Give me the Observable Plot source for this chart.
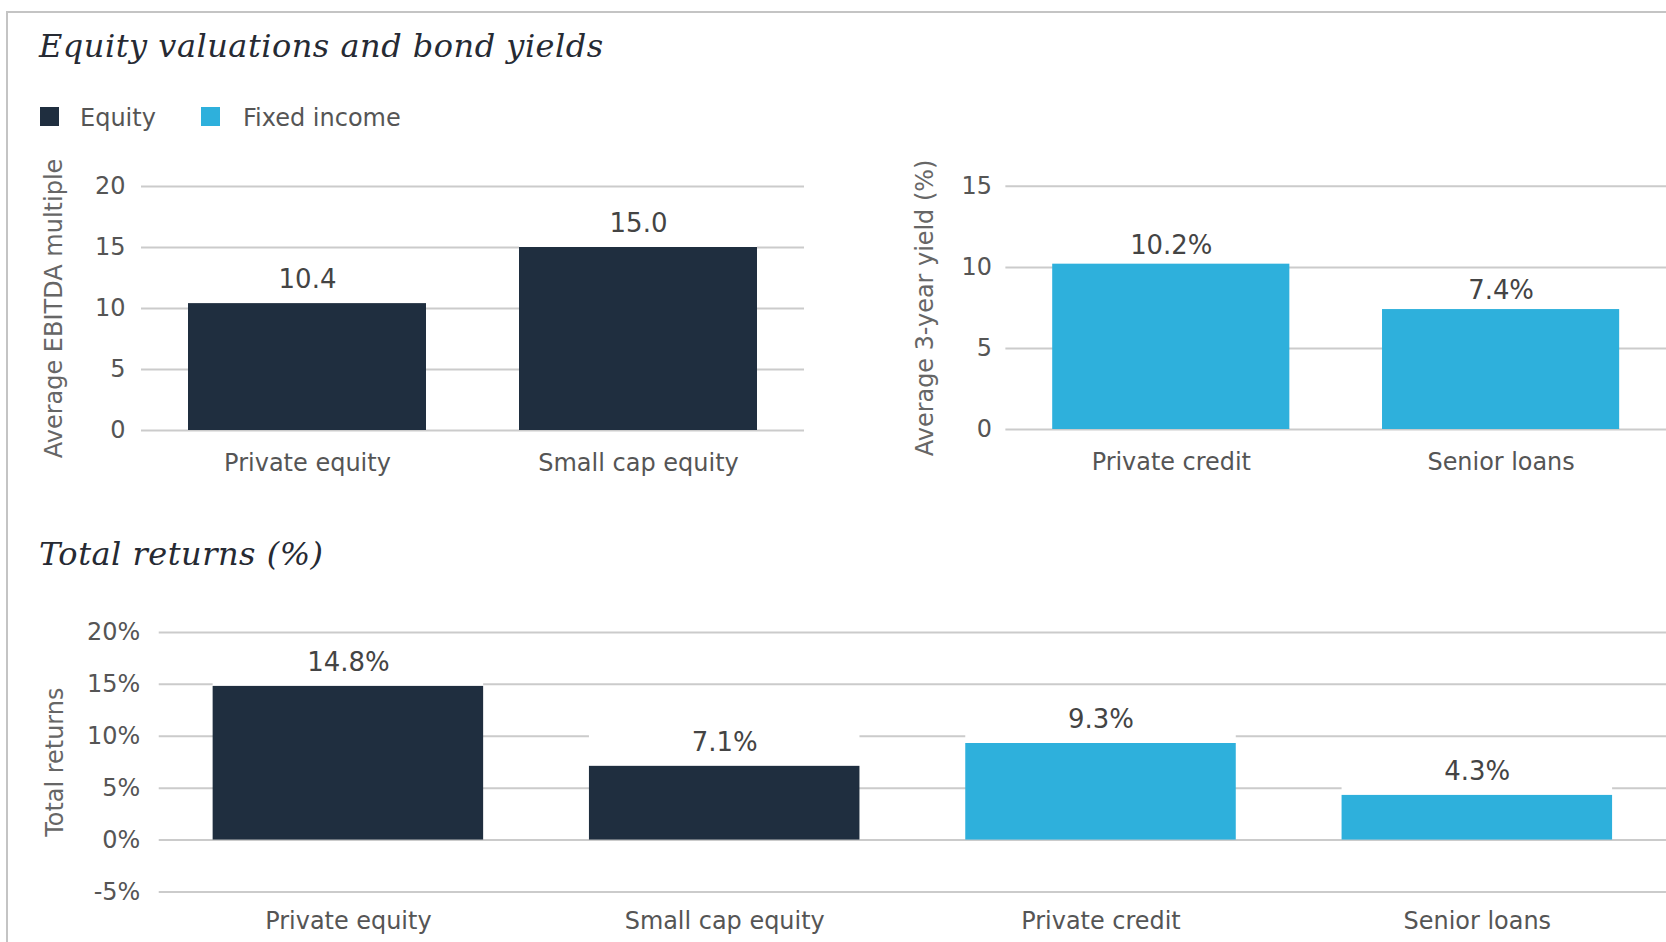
<!DOCTYPE html>
<html>
<head>
<meta charset="utf-8">
<script src="https://cdn.jsdelivr.net/npm/d3@7"></script>
<script src="https://cdn.jsdelivr.net/npm/@observablehq/plot@0.6"></script>
<style>
  html, body { margin: 0; padding: 0; background: #fff; overflow: hidden; }
  #root { position: relative; width: 1666px; height: 942px; overflow: hidden; background: #fff; }
  .frame { position: absolute; left: 6px; top: 11px; width: 1700px; height: 1000px;
           border-top: 2px solid #c4c4c4; border-left: 2px solid #c4c4c4; box-sizing: border-box; }
  .title { position: absolute; font-family: "DejaVu Serif", serif; font-style: italic; font-size: 32px;
           letter-spacing: 0.5px; line-height: 32px; color: #262a33; white-space: nowrap; }
  .legend-swatch { position: absolute; width: 19px; height: 19px; }
  .legend-text { position: absolute; font-family: "DejaVu Sans", sans-serif; font-size: 24px; line-height: 24px;
                 color: #555; white-space: nowrap; }
  .chart { position: absolute; }
  .chart svg { overflow: visible; }
</style>
</head>
<body>
<div id="root">
  <div class="frame"></div>
  <div class="title" style="left:39px; top:30px;">Equity valuations and bond yields</div>
  <div id="legend"></div>
  <div class="title" style="left:39px; top:538px;">Total returns (%)</div>
  <div class="chart" id="c1" style="left:0px; top:150px;"></div>
  <div class="chart" id="c2" style="left:830px; top:150px;"></div>
  <div class="chart" id="c3" style="left:0px; top:590px;"></div>
</div>
<script>
// ---- Data ----
const groupNames = ["Equity", "Fixed income"];
const groupColors = ["#1f2e3f", "#2eb0dc"];

const valuationCategories = ["Private equity", "Small cap equity"];
const valuationValues = [10.4, 15.0];
const valuationGroups = ["Equity", "Equity"];
const valuationTicks = [0, 5, 10, 15, 20];

const yieldCategories = ["Private credit", "Senior loans"];
const yieldValues = [10.2, 7.4];
const yieldGroups = ["Fixed income", "Fixed income"];
const yieldTicks = [0, 5, 10, 15];

const returnCategories = ["Private equity", "Small cap equity", "Private credit", "Senior loans"];
const returnValues = [14.8, 7.1, 9.3, 4.3];
const returnGroups = ["Equity", "Equity", "Fixed income", "Fixed income"];
const returnTicks = [-5, 0, 5, 10, 15, 20];

// ---- Legend ----
const legend = document.getElementById("legend");
const legendLayout = [{sx: 40, tx: 80}, {sx: 201, tx: 243}];
groupNames.forEach((g, i) => {
  const sw = document.createElement("div");
  sw.className = "legend-swatch";
  sw.style.left = legendLayout[i].sx + "px";
  sw.style.top = "107px";
  sw.style.background = groupColors[i];
  legend.appendChild(sw);
  const t = document.createElement("div");
  t.className = "legend-text";
  t.style.left = legendLayout[i].tx + "px";
  t.style.top = "106px";
  t.textContent = g;
  legend.appendChild(t);
});

// ---- Chart builder ----
function barChart(o) {
  const data = o.cats.map((c, i) => ({cat: c, value: o.vals[i], group: o.groups[i], label: o.fmtLabel(o.vals[i])}));
  return Plot.plot({
    width: o.width, height: o.height,
    marginLeft: o.ml, marginRight: o.mr, marginTop: o.mt, marginBottom: o.mb,
    style: {fontFamily: "'DejaVu Sans', sans-serif", fontSize: "24px", color: "#555", background: "transparent"},
    x: {domain: o.cats, paddingInner: 0.28, paddingOuter: 0.14, label: null},
    y: {domain: o.yDomain, ticks: o.ticks, label: null},
    color: {domain: groupNames, range: groupColors},
    marks: [
      Plot.gridY(o.ticks, {stroke: "#cbcbcb", strokeOpacity: 1, strokeWidth: 2}),
      Plot.barY(data, {x: "cat", y1: "value", y2: "value", insetTop: -36, fill: "white"}),
      Plot.barY(data, {x: "cat", y: "value", fill: "group"}),
      Plot.text(data, {x: "cat", y: "value", text: "label", dy: o.labelDy, fontSize: 26, fill: "#444"}),
      Plot.axisY(o.ticks, {tickSize: 0, tickPadding: o.tickPad, tickFormat: o.fmtTick, fontSize: 24, label: null}),
      Plot.axisX({tickSize: 0, tickPadding: o.xPad, fontSize: 24, label: null}),
      Plot.text([o.yTitle], {text: d => d, frameAnchor: "left", textAnchor: "middle", rotate: -90,
                             dx: o.titleDx, fontSize: 24, fill: "#666"})
    ]
  });
}

document.getElementById("c1").appendChild(barChart({
  cats: valuationCategories, vals: valuationValues, groups: valuationGroups,
  ticks: valuationTicks, yDomain: [0, 20],
  fmtTick: d => String(d), fmtLabel: v => v.toFixed(1),
  yTitle: "Average EBITDA multiple",
  width: 820, height: 340, ml: 141, mr: 16, mt: 36, mb: 60,
  tickPad: 16, xPad: 23, titleDx: -87, labelDy: -24
}));

document.getElementById("c2").appendChild(barChart({
  cats: yieldCategories, vals: yieldValues, groups: yieldGroups,
  ticks: yieldTicks, yDomain: [0, 15],
  fmtTick: d => String(d), fmtLabel: v => v.toFixed(1) + "%",
  yTitle: "Average 3-year yield (%)",
  width: 839, height: 340, ml: 176, mr: 0, mt: 36, mb: 60,
  tickPad: 14, xPad: 24, titleDx: -81, labelDy: -19
}));

document.getElementById("c3").appendChild(barChart({
  cats: returnCategories, vals: returnValues, groups: returnGroups,
  ticks: returnTicks, yDomain: [-5, 20],
  fmtTick: d => d + "%", fmtLabel: v => v.toFixed(1) + "%",
  yTitle: "Total returns",
  width: 1669, height: 352, ml: 159, mr: 0, mt: 42, mb: 50,
  tickPad: 19, xPad: 20, titleDx: -104, labelDy: -24
}));
</script>
</body>
</html>
